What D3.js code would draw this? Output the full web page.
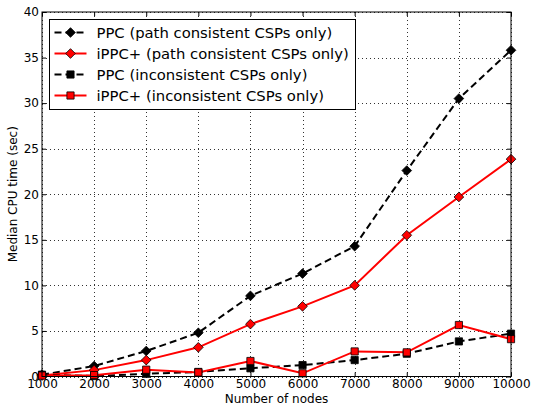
<!DOCTYPE html>
<html>
<head>
<meta charset="utf-8">
<script src="https://d3js.org/d3.v7.min.js"></script>
<style>
  body { margin: 0; background: #fff; }
  svg { display: block; font-family: "DejaVu Sans", sans-serif; }
</style>
</head>
<body>
<svg id="chart" width="533" height="406"></svg>
<script>
const nodes = [1000, 2000, 3000, 4000, 5000, 6000, 7000, 8000, 9000, 10000];
const ppcPath = [0.2, 1.15, 2.8, 4.8, 8.85, 11.3, 14.3, 22.6, 30.5, 35.8];
const ippcPath = [0.1, 0.7, 1.8, 3.2, 5.75, 7.7, 10.0, 15.5, 19.7, 23.85];
const ppcIncons = [0.2, 0.05, 0.3, 0.5, 0.9, 1.25, 1.8, 2.5, 3.85, 4.7];
const ippcIncons = [0.1, 0.15, 0.75, 0.45, 1.7, 0.35, 2.75, 2.65, 5.65, 4.1];
const yTicks = [0, 5, 10, 15, 20, 25, 30, 35, 40];

const series = [
  { name: "PPC (path consistent CSPs only)", values: ppcPath, color: "#000", dash: "7,4", marker: "diamond", fill: "#000" },
  { name: "iPPC+ (path consistent CSPs only)", values: ippcPath, color: "#ff0000", dash: null, marker: "diamond", fill: "#ff0000" },
  { name: "PPC (inconsistent CSPs only)", values: ppcIncons, color: "#000", dash: "7,4", marker: "square", fill: "#000" },
  { name: "iPPC+ (inconsistent CSPs only)", values: ippcIncons, color: "#ff0000", dash: null, marker: "square", fill: "#ff0000" }
];

const margin = { left: 42, right: 22, top: 12, bottom: 29.5 };
const W = 533, H = 406;
const svg = d3.select("#chart");

const x = d3.scaleLinear().domain([1000, 10000]).range([margin.left, W - margin.right]);
const y = d3.scaleLinear().domain([0, 40]).range([H - margin.bottom, margin.top]);

// grid
const grid = svg.append("g").attr("stroke", "#000").attr("stroke-width", 1).attr("stroke-dasharray", "1,3").attr("opacity", 0.8);
grid.selectAll("line.v").data(nodes).join("line")
  .attr("x1", d => Math.round(x(d)) + 0.5).attr("x2", d => Math.round(x(d)) + 0.5)
  .attr("y1", y(40)).attr("y2", y(0));
grid.selectAll("line.h").data(yTicks).join("line")
  .attr("y1", d => Math.round(y(d)) + 0.5).attr("y2", d => Math.round(y(d)) + 0.5)
  .attr("x1", x(1000)).attr("x2", x(10000));

// axes
const xAxis = d3.axisBottom(x).tickValues(nodes).tickSizeInner(-4).tickSizeOuter(0).tickPadding(3).tickFormat(d3.format("d"));
svg.append("g").attr("transform", `translate(0,${y(0)})`).call(xAxis);
const yAxis = d3.axisLeft(y).tickValues(yTicks).tickSizeInner(-4).tickSizeOuter(0).tickPadding(3);
svg.append("g").attr("transform", `translate(${x(1000)},0)`).call(yAxis);
svg.append("g").attr("transform", `translate(0,${y(40)})`)
  .call(d3.axisTop(x).tickValues(nodes).tickSizeInner(-4).tickSizeOuter(0).tickFormat(""));
svg.append("g").attr("transform", `translate(${x(10000)},0)`)
  .call(d3.axisRight(y).tickValues(yTicks).tickSizeInner(-4).tickSizeOuter(0).tickFormat(""));
svg.selectAll(".domain").remove();
svg.selectAll(".tick text").attr("font-size", 12).attr("font-family", "DejaVu Sans").attr("fill", "#000");

// series lines
const line = d3.line().x((d, i) => x(nodes[i])).y(d => y(d));
const symDiamond = d3.symbol().type(d3.symbolDiamond2).size(60);
const symSquare = d3.symbol().type(d3.symbolSquare).size(52);

const plot = svg.append("g");
series.forEach(s => {
  plot.append("path").datum(s.values)
    .attr("d", line).attr("fill", "none")
    .attr("stroke", s.color).attr("stroke-width", 2)
    .attr("stroke-dasharray", s.dash);
});
series.forEach(s => {
  plot.selectAll(null).data(s.values).join("path")
    .attr("transform", (d, i) => `translate(${x(nodes[i])},${y(d)})`)
    .attr("d", s.marker === "diamond" ? symDiamond() : symSquare())
    .attr("fill", s.fill).attr("stroke", "#000").attr("stroke-width", 0.8);
});

// frame
svg.append("rect").attr("x", x(1000)).attr("y", y(40))
  .attr("width", x(10000) - x(1000)).attr("height", y(0) - y(40))
  .attr("fill", "none").attr("stroke", "#000").attr("stroke-width", 1);

// labels
svg.append("text").attr("x", (x(1000) + x(10000)) / 2).attr("y", 403)
  .attr("text-anchor", "middle").attr("font-size", 12).text("Number of nodes");
svg.append("text").attr("transform", `translate(17,${(y(0) + y(40)) / 2}) rotate(-90)`)
  .attr("text-anchor", "middle").attr("font-size", 12).text("Median CPU time (sec)");

// legend
const lg = svg.append("g").attr("transform", "translate(49.5,19.5)");
lg.append("rect").attr("width", 306).attr("height", 90).attr("fill", "#fff").attr("stroke", "#000").attr("stroke-width", 1);
series.forEach((s, i) => {
  const cy = 13 + i * 21;
  lg.append("line").attr("x1", 5).attr("x2", 37).attr("y1", cy).attr("y2", cy)
    .attr("stroke", s.color).attr("stroke-width", 2).attr("stroke-dasharray", s.dash);
  lg.append("path").attr("transform", `translate(21,${cy})`)
    .attr("d", s.marker === "diamond" ? symDiamond() : symSquare())
    .attr("fill", s.fill).attr("stroke", "#000").attr("stroke-width", 0.8);
  lg.append("text").attr("x", 47).attr("y", cy + 5.5).attr("font-size", 14.8).text(s.name);
});
</script>
</body>
</html>
